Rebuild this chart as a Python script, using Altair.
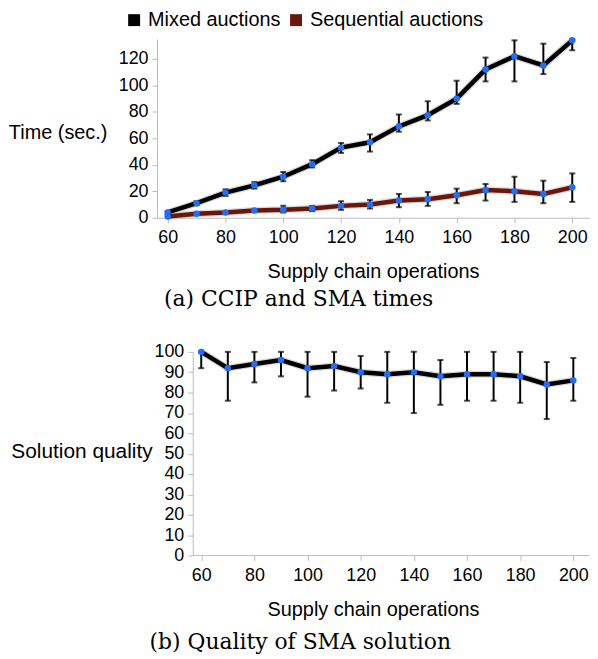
import altair as alt
import pandas as pd

# ---------------- data ----------------
ops = [60, 70, 80, 90, 100, 110, 120, 130, 140, 150, 160, 170, 180, 190, 200]

series_names = ["Mixed auctions", "Sequential auctions"]
series_colors = ["#000000", "#6b1608"]

mixed = [4, 11, 19, 24.5, 31, 40.5, 53, 57, 69, 77.5, 90, 112, 122, 115, 134]
mixed_lo = [2.5, 9.5, 16.5, 22, 27.5, 38, 49, 50, 65, 73.5, 86, 103, 103, 108.5, 126.5]
mixed_hi = [5, 12.5, 21.5, 27, 34.5, 43.5, 56.5, 63, 78, 88, 103.5, 121, 134, 131.5, 134.5]

seq = [1, 3, 4, 5.5, 6, 7, 9, 10, 13, 14, 17, 21, 20, 18, 23]
seq_lo = [None, None, None, None, 4, 5, 6, 7, 8, 9, 11, 13, 12, 11, 12]
seq_hi = [None, None, None, None, 9, 9, 12.5, 13.5, 18, 19.5, 22, 25.5, 31, 28, 33.5]

quality = [100, 92, 94, 96, 92, 93, 90, 89, 90, 88, 89, 89, 88, 84, 86]
quality_lo = [92, 76, 85, 88, 78, 81, 82, 75, 70, 74, 76, 76, 75, 67, 76]
quality_hi = [100, 100, 100, 100, 100, 100, 98, 100, 100, 96, 100, 100, 100, 95, 97]

x_ticks = [60, 80, 100, 120, 140, 160, 180, 200]
time_ticks = [0, 20, 40, 60, 80, 100, 120]
quality_ticks = [0, 10, 20, 30, 40, 50, 60, 70, 80, 90, 100]
bottom_x_span = [56.8, 206.0]

POINT_BLUE = "#1f6fff"
AXIS_GRAY = "#bbbbbb"
FONT = "Liberation Sans"
SERIF = "DejaVu Serif"

# ---------------- tables ----------------
rows = []
for i, o in enumerate(ops):
    rows.append(dict(ops=o, series=series_names[0], val=mixed[i], lo=mixed_lo[i], hi=mixed_hi[i]))
    rows.append(dict(ops=o, series=series_names[1], val=seq[i], lo=seq_lo[i], hi=seq_hi[i]))
df_top = pd.DataFrame(rows)
df_top_err = df_top.dropna(subset=["lo", "hi"])

df_bot = pd.DataFrame(dict(ops=ops, val=quality, lo=quality_lo, hi=quality_hi))
df_bot_axis = pd.DataFrame(dict(ops=[bottom_x_span[0]], x1=[bottom_x_span[1]], val=[0]))


def x_enc(domain, show_domain=True, field="ops:Q"):
    return alt.X(
        field,
        scale=alt.Scale(domain=domain, nice=False, zero=False),
        axis=alt.Axis(
            values=x_ticks, title="Supply chain operations", domain=show_domain,
            labelPadding=6, titlePadding=15,
        ),
    )


def y_enc(field, domain, title, values, tx, ty, offset=0, tsize=20):
    return alt.Y(
        field,
        scale=alt.Scale(domain=domain, nice=False),
        axis=alt.Axis(
            values=values, title=title, offset=offset,
            titleAngle=0, titleAlign="center", titleBaseline="middle",
            titleX=tx, titleY=ty, labelPadding=4, titleFontSize=tsize,
        ),
    )


# ---------------- top chart ----------------
top_domain = [56.3, 205.8]
top_y = ([0, 135], "Time (sec.)", time_ticks, -100, 94)
xt = x_enc(top_domain)
yt = y_enc("val:Q", *top_y)
yt_lo = y_enc("lo:Q", *top_y)
yt_hi = y_enc("hi:Q", *top_y)

base_t = alt.Chart(df_top)

halo_t = base_t.mark_line(strokeWidth=7, color="#c8c8c8", opacity=0.7).encode(
    x=xt, y=yt, detail="series:N")
line_mixed = base_t.transform_filter(alt.datum.series == series_names[0]).mark_line(
    strokeWidth=4.5, color=series_colors[0]).encode(x=xt, y=yt)
line_seq = base_t.transform_filter(alt.datum.series == series_names[1]).mark_line(
    strokeWidth=4.5, color=series_colors[1]).encode(x=xt, y=yt)

base_te = alt.Chart(df_top_err)
err_t = base_te.mark_rule(color="black", strokeWidth=2).encode(x=xt, y=yt_lo, y2="hi:Q")
cap_lo_t = base_te.mark_tick(color="black", orient="horizontal", size=6, thickness=2).encode(x=xt, y=yt_lo)
cap_hi_t = base_te.mark_tick(color="black", orient="horizontal", size=6, thickness=2).encode(x=xt, y=yt_hi)

pts_t = base_t.mark_circle(color=POINT_BLUE, size=42, opacity=1).encode(x=xt, y=yt)

legend_layer = base_t.mark_square(size=1, opacity=1).encode(
    x=xt, y=yt,
    color=alt.Color(
        "series:N",
        scale=alt.Scale(domain=series_names, range=series_colors),
        legend=alt.Legend(
            title=None, orient="none", direction="horizontal",
            legendX=-33, legendY=-29, symbolType="square", symbolSize=144,
            symbolStrokeWidth=0, labelFont=FONT, labelFontSize=20, labelColor="black",
            labelOffset=4, columnPadding=5, labelLimit=400, padding=0,
        ),
    ),
)

top = alt.layer(halo_t, line_mixed, line_seq, err_t, cap_lo_t, cap_hi_t, legend_layer, pts_t).properties(
    width=435, height=180,
    title=alt.TitleParams("(a) CCIP and SMA times", orient="bottom", font=SERIF, frame="bounds",
                          anchor="middle", fontSize=22, fontWeight="normal", color="black", offset=8),
)

# ---------------- bottom chart ----------------
bot_domain = [43.35, 205.9]
bot_y = ([0, 100], "Solution quality", quality_ticks, -112, 100, -36, 21)
xb = x_enc(bot_domain, show_domain=False)
yb = y_enc("val:Q", *bot_y)
yb_lo = y_enc("lo:Q", *bot_y)
yb_hi = y_enc("hi:Q", *bot_y)

base_b = alt.Chart(df_bot)
axis_line_b = alt.Chart(df_bot_axis).mark_rule(color=AXIS_GRAY, strokeWidth=1).encode(
    x=xb, x2="x1:Q", y=yb,
)
halo_b = base_b.mark_line(strokeWidth=7, color="#c8c8c8", opacity=0.7).encode(x=xb, y=yb)
line_b = base_b.mark_line(strokeWidth=4.5, color="black").encode(x=xb, y=yb)
err_b = base_b.mark_rule(color="black", strokeWidth=2).encode(x=xb, y=yb_lo, y2="hi:Q")
cap_lo_b = base_b.mark_tick(color="black", orient="horizontal", size=6, thickness=2).encode(x=xb, y=yb_lo)
cap_hi_b = base_b.mark_tick(color="black", orient="horizontal", size=6, thickness=2).encode(x=xb, y=yb_hi)
pts_b = base_b.mark_circle(color=POINT_BLUE, size=42, opacity=1).encode(x=xb, y=yb)

bottom = alt.layer(axis_line_b, halo_b, line_b, err_b, cap_lo_b, cap_hi_b, pts_b).properties(
    width=435, height=205,
    title=alt.TitleParams("(b) Quality of SMA solution", orient="bottom", font=SERIF, frame="bounds",
                          anchor="middle", fontSize=22, fontWeight="normal", color="black", offset=13),
)

chart = (
    alt.concat(top, bottom, columns=1, spacing=28)
    .configure_view(stroke=None)
    .configure_axis(
        labelFont=FONT, titleFont=FONT, labelFontSize=18, titleFontSize=20,
        titleFontWeight="normal", labelColor="black", titleColor="black",
        tickSize=5, labelOverlap=False, labelFlush=False, grid=False,
        domainColor=AXIS_GRAY, tickColor=AXIS_GRAY,
    )
    .properties(padding={"left": 0, "top": 0, "right": 0, "bottom": 0})
)

chart.save("out.html", embed_options={"renderer": "svg", "actions": False})
